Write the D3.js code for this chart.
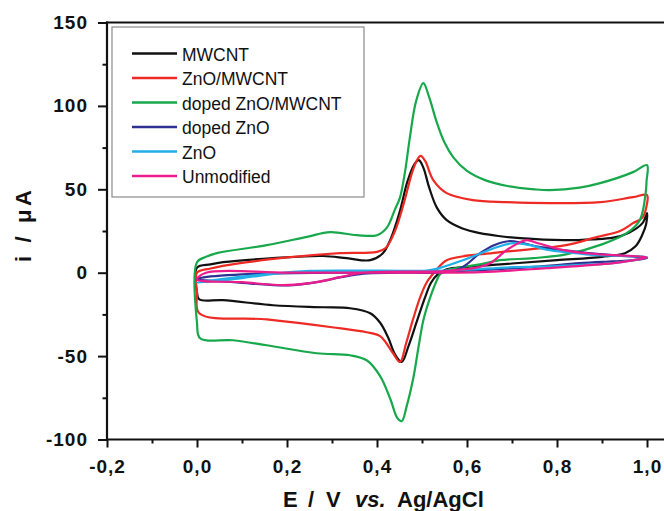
<!DOCTYPE html>
<html><head><meta charset="utf-8">
<script src="https://cdn.jsdelivr.net/npm/d3@7"></script>
<style>
html,body{margin:0;padding:0;background:#fff;}
svg{display:block;font-family:"Liberation Sans",Arial,sans-serif;}
</style></head>
<body>
<svg id="c" width="664" height="511"></svg>
<script>
// ---- data (E in V, i in µA), closed CV loops ----
const seriesNames = ["MWCNT","ZnO/MWCNT","doped ZnO/MWCNT","doped ZnO","ZnO","Unmodified"];
const seriesColors = ["#111111","#ee2a24","#17a84b","#2e3192","#22aee6","#ec1c8c"];

const mwcnt = [[0,3],[0.03,5],[0.058,6.3],[0.169,8.7],[0.28,10],[0.333,8.7],[0.385,7.5],[0.413,11.7],[0.43,20],[0.45,36],[0.468,55],[0.483,65],[0.493,67.5],[0.503,63],[0.516,51],[0.533,39],[0.555,31.5],[0.59,26.5],[0.629,23.7],[0.67,22],[0.718,20.7],[0.814,19.5],[0.88,20],[0.925,21],[0.96,24],[0.99,29.7],[1.0,35.7],[0.998,29],[0.99,23],[0.975,16],[0.951,11.7],[0.9,9.5],[0.8,7.5],[0.7,5.5],[0.6,3.5],[0.555,2],[0.535,-1],[0.52,-6],[0.507,-14.7],[0.49,-28],[0.47,-44],[0.455,-53.5],[0.44,-49],[0.425,-39],[0.407,-30],[0.385,-24.3],[0.34,-21.3],[0.28,-20.7],[0.169,-19.5],[0.058,-16.5],[0.005,-16],[0,-12]];

const znoMwcnt = [[0,0],[0.03,2.5],[0.096,5.7],[0.207,9.3],[0.318,11.7],[0.4,12.5],[0.42,15],[0.44,25],[0.46,42],[0.478,60],[0.49,68],[0.497,70],[0.507,67],[0.525,55.5],[0.555,47.7],[0.613,43.5],[0.688,42.3],[0.784,41.7],[0.896,42.3],[0.969,45.3],[1.0,46.5],[0.999,40],[0.99,33],[0.969,29.7],[0.94,25],[0.888,21.3],[0.82,16.5],[0.777,15],[0.666,12],[0.555,7.5],[0.53,1],[0.51,-6],[0.496,-14.7],[0.48,-28],[0.465,-42],[0.451,-53.5],[0.435,-48],[0.42,-42],[0.407,-38],[0.377,-35.7],[0.3,-32.7],[0.155,-28],[0.005,-24.3],[0,-12]];

const dopedZnoMwcnt = [[0,6.3],[0.02,9.5],[0.044,11.7],[0.155,16.5],[0.244,21.5],[0.296,24.3],[0.355,22.5],[0.4,22.5],[0.422,27],[0.44,38],[0.451,45],[0.462,60],[0.473,81],[0.487,103],[0.503,113.7],[0.515,106],[0.533,90],[0.55,78],[0.57,69],[0.6,61],[0.64,55.5],[0.69,52],[0.75,50],[0.784,49.5],[0.85,51],[0.896,53.7],[0.969,60.3],[1.0,64.5],[0.999,55],[0.997,47.7],[0.984,31.5],[0.955,23.7],[0.9,17],[0.82,11],[0.747,8.7],[0.673,7.5],[0.629,5],[0.555,1.5],[0.54,-1],[0.533,-4.5],[0.518,-15],[0.503,-28.5],[0.492,-45],[0.481,-62.7],[0.466,-80],[0.455,-89],[0.445,-87],[0.43,-76],[0.407,-62],[0.377,-52.5],[0.34,-49.5],[0.266,-48.3],[0.155,-43.5],[0.08,-40.5],[0.007,-39.3],[0,-30]];

const dopedZno = [[0,-4],[0.05,-5],[0.12,-6.5],[0.2,-7.6],[0.27,-5.5],[0.32,-2.7],[0.37,-0.5],[0.45,0],[0.555,0.5],[0.59,3.3],[0.629,11.7],[0.66,16.5],[0.696,19],[0.72,18],[0.76,15.5],[0.814,13.5],[0.87,11.8],[0.925,10.5],[1.0,8.7],[0.97,7.5],[0.925,6.8],[0.85,5.7],[0.75,3.5],[0.629,1.5],[0.5,0.3],[0.3,0],[0.1,-1],[0.01,-3]];

const zno = [[0,-6],[0.1,-3.2],[0.207,0.3],[0.3,0.6],[0.407,0.6],[0.518,1.5],[0.591,7.5],[0.666,15.3],[0.703,17.7],[0.74,16.5],[0.777,13.8],[0.83,12],[0.888,10.5],[1.0,9.3],[0.97,7.5],[0.925,5.7],[0.8,4],[0.703,3.3],[0.555,1.2],[0.4,1.2],[0.25,1.1],[0.15,-1],[0.05,-4]];

const unmodified = [[0,-4],[0.1,-5.7],[0.191,-7.5],[0.25,-6.3],[0.318,-2.7],[0.37,0],[0.55,1],[0.62,3],[0.651,5.7],[0.688,13.5],[0.718,18.3],[0.733,19.5],[0.76,17.5],[0.814,13.5],[0.87,11.5],[0.925,10.5],[1.0,9.3],[0.97,7.5],[0.925,5.7],[0.777,2.7],[0.63,0.3],[0.4,0],[0.2,0],[0.02,0]];

const seriesData = [mwcnt, znoMwcnt, dopedZnoMwcnt, dopedZno, zno, unmodified];

const xMajor = [-0.2,0,0.2,0.4,0.6,0.8,1.0];
const xMinor = [-0.1,0.1,0.3,0.5,0.7,0.9];
const yMajor = [-100,-50,0,50,100,150];
const yMinor = [-75,-25,25,75,125];

// ---- drawing ----
const svg = d3.select("#c");
const x = d3.scaleLinear().domain([-0.2,1.0]).range([107,647]);
const y = d3.scaleLinear().domain([-100,150]).range([439.5,22.5]);

// curves
const line = d3.line().x(d=>x(d[0])).y(d=>y(d[1])).curve(d3.curveCatmullRomClosed.alpha(0.5));
const g = svg.append("g");
seriesData.forEach((s,k)=>{
  g.append("path").attr("d",line(s)).attr("fill","none")
   .attr("stroke",seriesColors[k]).attr("stroke-width",2.2).attr("stroke-linejoin","round");
});

// frame top line and axes lines
svg.append("line").attr("x1",106).attr("x2",664).attr("y1",y(150)).attr("y2",y(150)).attr("stroke","#111").attr("stroke-width",2.2);
const fmt = v => d3.format(".1f")(v).replace(".",",").replace("−","-");

const xAxis = svg.append("g").attr("transform",`translate(0,${y(-100)})`)
  .call(d3.axisBottom(x).tickValues(xMajor).tickSize(8).tickPadding(12).tickFormat(fmt));
const xAxisMinor = svg.append("g").attr("transform",`translate(0,${y(-100)})`)
  .call(d3.axisBottom(x).tickValues(xMinor).tickSize(4).tickFormat(""));
const yAxis = svg.append("g").attr("transform",`translate(${x(-0.2)},0)`)
  .call(d3.axisLeft(y).tickValues(yMajor).tickSize(9).tickPadding(10).tickFormat(d=>String(d)));
const yAxisMinor = svg.append("g").attr("transform",`translate(${x(-0.2)},0)`)
  .call(d3.axisLeft(y).tickValues(yMinor).tickSize(4.5).tickFormat(""));
[xAxis,xAxisMinor,yAxis,yAxisMinor].forEach(a=>{
  a.select(".domain").remove();
  a.selectAll(".tick line").attr("stroke","#111").attr("stroke-width",2);
  a.selectAll("text").attr("font-family","'Liberation Sans',Arial,sans-serif")
   .attr("font-size",19).attr("font-weight","bold").attr("fill","#111").attr("letter-spacing","1px");
});
svg.append("line").attr("x1",x(-0.2)).attr("x2",664).attr("y1",y(-100)).attr("y2",y(-100)).attr("stroke","#111").attr("stroke-width",2.2);
svg.append("line").attr("x1",x(-0.2)).attr("x2",x(-0.2)).attr("y1",y(150)-1).attr("y2",y(-100)+1).attr("stroke","#111").attr("stroke-width",2.2);

// axis titles
const xt = svg.append("text").attr("y",507).attr("font-size",22).attr("font-weight","bold").attr("fill","#111");
xt.append("tspan").attr("x",283).text("E");
xt.append("tspan").attr("x",308).text("/");
xt.append("tspan").attr("x",326).text("V");
xt.append("tspan").attr("x",355).attr("font-style","italic").text("vs.");
xt.append("tspan").attr("x",397).text("Ag/AgCl");

svg.append("text").attr("transform","translate(31,226) rotate(-90)").attr("text-anchor","middle")
  .attr("font-size",22).attr("font-weight","bold").attr("fill","#111")
  .attr("textLength",72).attr("lengthAdjust","spacing").text("i / μA");

// legend
svg.append("rect").attr("x",112).attr("y",27).attr("width",252).attr("height",170)
  .attr("fill","#fff").attr("stroke","#8a8a8a").attr("stroke-width",1.2);
seriesNames.forEach((n,k)=>{
  const yy = 53.5 + k*24.5;
  svg.append("line").attr("x1",132).attr("x2",177).attr("y1",yy).attr("y2",yy)
    .attr("stroke",seriesColors[k]).attr("stroke-width",2.4);
  svg.append("text").attr("x",182).attr("y",yy+7).attr("font-size",17.5).attr("fill","#111").text(n);
});
</script>
</body></html>
